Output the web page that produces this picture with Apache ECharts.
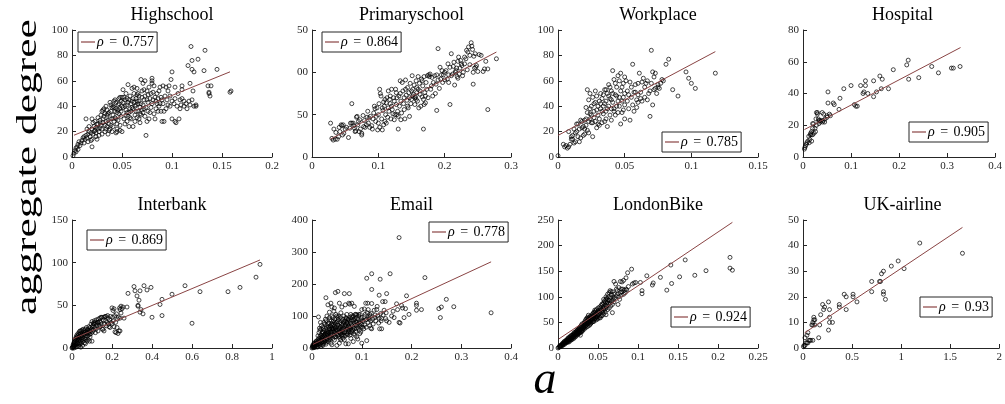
<!DOCTYPE html>
<html>
<head>
<meta charset="utf-8">
<script src="https://cdn.jsdelivr.net/npm/echarts@6/dist/echarts.min.js"></script>
<style>
html, body { margin: 0; padding: 0; background: #fff; }
#chart { width: 1005px; height: 404px; }
</style>
</head>
<body>
<div id="chart"></div>
<script>
// ---- panel titles and correlation coefficients ----
const panelNames = ['Highschool', 'Primaryschool', 'Workplace', 'Hospital',
                    'Interbank', 'Email', 'LondonBike', 'UK-airline'];
const rhoValues = ['0.757', '0.864', '0.785', '0.905', '0.869', '0.778', '0.924', '0.93'];

// ---- axis ranges and tick steps ----
const xMax  = [0.2, 0.3, 0.15, 0.4, 1, 0.4, 0.25, 2];
const xStep = [0.05, 0.1, 0.05, 0.1, 0.2, 0.1, 0.05, 0.5];
const yMax  = [100, 150, 100, 80, 150, 400, 250, 50];
const yStep = [20, 50, 20, 20, 50, 100, 50, 10];

// ---- linear fits: degree = intercept + slope * a, drawn over [start, end] ----
const fitIntercept = [16.5, 9.7, 17, 16.8, 10.3, 10, 16.5, 5.5];
const fitSlope     = [320, 411, 559, 159, 98.8, 720, 1050, 25.6];
const fitStart     = [0.002, 0.028, 0, 0.003, 0.005, 0.002, 0.001, 0.017];
const fitEnd       = [0.158, 0.278, 0.118, 0.328, 0.94, 0.36, 0.218, 1.625];

// ---- (a, aggregate degree) pairs per network ----
const highschool = [
[0.001,1],[0.002,3],[0.003,5],[0.004,7],[0.005,8],[0.006,10],[0.007,12],[0.008,9],[0.009,11],[0.010,13],[0.004,4],[0.006,6],
[0.011,15],[0.012,16],[0.013,14],[0.014,17],[0.015,15],[0.016,18],[0.017,20],[0.018,16],[0.019,13],[0.02,8],[0.02,14],[0.014,30],[0.015,22],[0.017,24],[0.019,19],[0.02,22],[0.012,11],[0.016,12],
[0.021,18],[0.022,24],[0.023,21],[0.024,16],[0.025,26],[0.026,22],[0.027,20],[0.028,29],[0.029,25],[0.03,22],[0.021,27],[0.023,28],[0.024,19],[0.026,31],[0.027,17],[0.028,23],[0.029,33],[0.03,36],[0.03,18],[0.025,14],[0.022,20],[0.026,26],[0.028,27],[0.02,30],[0.024,23],
[0.031,37],[0.032,32],[0.032,38],[0.033,34],[0.034,28],[0.035,24],[0.036,18],[0.037,21],[0.038,30],[0.039,36],[0.04,39],[0.031,27],[0.033,25],[0.034,40],[0.035,33],[0.036,29],[0.037,26],[0.038,22],[0.039,41],[0.04,30],[0.033,20],[0.035,37],[0.037,35],[0.039,25],[0.031,30],[0.036,34],[0.034,22],[0.038,43],[0.04,20],
[0.041,33],[0.042,28],[0.043,45],[0.044,43],[0.045,20],[0.045,22],[0.046,37],[0.047,42],[0.048,47],[0.049,32],[0.05,20],[0.041,40],[0.042,44],[0.043,36],[0.044,30],[0.045,26],[0.046,41],[0.047,34],[0.048,38],[0.049,44],[0.05,40],[0.041,24],[0.043,31],[0.044,38],[0.046,29],[0.048,25],[0.049,36],[0.05,47],[0.042,39],[0.047,46],[0.045,35],[0.044,19],[0.048,21],
[0.051,39],[0.051,53],[0.053,45],[0.054,37],[0.055,41],[0.056,57],[0.057,45],[0.058,38],[0.059,36],[0.06,54],[0.052,30],[0.053,40],[0.054,33],[0.055,28],[0.056,43],[0.057,35],[0.058,48],[0.059,42],[0.06,39],[0.052,47],[0.055,35],[0.057,24],[0.053,26],[0.059,30],[0.06,44],[0.054,50],[0.056,32],[0.058,31],[0.051,43],[0.055,46],
[0.061,24],[0.062,43],[0.063,33],[0.064,46],[0.065,49],[0.066,42],[0.067,30],[0.068,34],[0.069,61],[0.07,47],[0.061,38],[0.062,50],[0.063,40],[0.064,36],[0.065,54],[0.066,36],[0.067,44],[0.068,39],[0.069,42],[0.07,52],[0.061,46],[0.063,28],[0.065,31],[0.067,48],[0.069,33],[0.062,55],[0.064,41],[0.066,50],[0.068,27],[0.07,37],[0.065,44],
[0.071,41],[0.072,53],[0.073,32],[0.074,17],[0.075,45],[0.076,36],[0.077,55],[0.079,39],[0.08,62],[0.071,58],[0.072,45],[0.073,48],[0.074,39],[0.075,52],[0.076,43],[0.077,30],[0.078,46],[0.079,50],[0.08,60],[0.08,42],[0.071,35],[0.073,60],[0.075,28],[0.078,35],[0.08,58],[0.072,38],[0.076,49],
[0.081,45],[0.082,34],[0.083,47],[0.085,42],[0.082,56],[0.084,38],[0.085,50],[0.086,36],[0.087,52],[0.087,40],[0.088,42],[0.089,47],[0.09,45],[0.09,28],[0.083,30],[0.086,46],[0.088,55],[0.084,44],[0.081,51],[0.089,36],
[0.091,56],[0.092,28],[0.093,48],[0.094,55],[0.094,38],[0.096,52],[0.097,56],[0.098,40],[0.099,61],[0.1,67],[0.1,44],[0.1,30],[0.091,42],[0.095,45],[0.098,48],[0.092,36],[0.096,41],
[0.103,28],[0.104,27],[0.103,55],[0.103,46],[0.105,40],[0.106,50],[0.107,30],[0.108,38],[0.108,45],[0.11,46],[0.11,56],[0.11,53],[0.112,40],[0.114,42],[0.115,38],[0.116,72],[0.117,44],[0.118,41],[0.118,58],[0.119,87],[0.12,45],[0.12,76],[0.12,69],[0.121,52],[0.122,40],[0.122,67],[0.124,41],[0.124,40],[0.102,42],[0.112,44],[0.109,41],
[0.126,77],[0.132,68],[0.133,84],[0.136,56],[0.137,51],[0.138,48],[0.139,56],[0.145,69],[0.158,51],[0.159,52],[0.137,50]
];

const primaryschool = [
[0.028,40],[0.03,22],[0.032,20],[0.033,33],[0.035,21],[0.038,21],[0.04,24],[0.042,30],[0.044,38],[0.045,37],[0.047,38],[0.05,33],[0.048,28],[0.046,26],[0.036,29],[0.041,35],
[0.052,35],[0.055,23],[0.057,34],[0.058,40],[0.06,40],[0.06,63],[0.062,40],[0.064,34],[0.066,31],[0.067,47],[0.068,48],[0.069,38],[0.07,42],[0.071,30],[0.072,44],[0.075,28],[0.075,26],[0.073,33],[0.065,30],[0.063,37],
[0.077,49],[0.078,36],[0.08,35],[0.082,38],[0.084,54],[0.085,40],[0.086,46],[0.088,48],[0.09,37],[0.092,45],[0.094,60],[0.095,57],[0.096,42],[0.098,58],[0.099,32],[0.1,40],[0.1,50],[0.097,48],[0.093,52],[0.087,35],[0.091,33],[0.083,47],[0.079,43],
[0.101,63],[0.102,80],[0.103,75],[0.104,72],[0.105,45],[0.106,32],[0.107,55],[0.108,65],[0.109,60],[0.11,42],[0.111,50],[0.112,64],[0.113,70],[0.114,47],[0.115,58],[0.116,54],[0.117,68],[0.118,72],[0.119,45],[0.12,80],[0.12,60],[0.121,56],[0.122,51],[0.123,70],[0.124,66],[0.125,50],[0.102,35],[0.108,38],[0.115,78],[0.112,40],[0.118,63],[0.124,44],[0.106,58],[0.11,68],
[0.126,80],[0.127,62],[0.128,70],[0.129,54],[0.13,48],[0.13,33],[0.131,72],[0.132,60],[0.133,75],[0.134,66],[0.135,52],[0.136,88],[0.137,78],[0.138,63],[0.139,70],[0.14,45],[0.141,91],[0.142,73],[0.143,67],[0.144,82],[0.145,58],[0.146,76],[0.147,70],[0.148,87],[0.149,63],[0.15,78],[0.128,50],[0.134,44],[0.139,56],[0.144,60],[0.147,48],[0.15,68],[0.133,90],[0.127,76],[0.141,80],
[0.151,96],[0.152,72],[0.153,74],[0.154,85],[0.155,70],[0.156,71],[0.157,90],[0.158,76],[0.159,66],[0.16,80],[0.16,95],[0.161,58],[0.162,87],[0.163,74],[0.164,60],[0.165,92],[0.166,71],[0.167,84],[0.168,33],[0.168,68],[0.169,95],[0.17,76],[0.171,64],[0.172,88],[0.173,80],[0.174,96],[0.175,70],[0.155,62],[0.158,82],[0.163,78],[0.166,90],[0.171,72],[0.152,80],[0.157,68],[0.169,62],
[0.176,97],[0.177,95],[0.178,98],[0.179,80],[0.18,84],[0.182,72],[0.183,88],[0.185,96],[0.186,75],[0.188,55],[0.188,97],[0.19,128],[0.19,91],[0.192,81],[0.194,92],[0.195,97],[0.196,102],[0.198,97],[0.2,91],[0.2,100],[0.181,94],[0.187,86],[0.193,106],[0.197,88],
[0.202,102],[0.204,92],[0.205,110],[0.206,97],[0.208,62],[0.208,106],[0.21,122],[0.21,96],[0.212,98],[0.213,107],[0.214,112],[0.215,85],[0.216,100],[0.218,105],[0.219,95],[0.22,113],[0.221,118],[0.222,98],[0.223,105],[0.224,114],[0.225,110],[0.206,88],[0.217,102],[0.22,93],
[0.226,108],[0.227,96],[0.228,100],[0.23,118],[0.232,116],[0.234,103],[0.235,124],[0.236,130],[0.238,120],[0.24,135],[0.241,131],[0.242,127],[0.243,86],[0.244,119],[0.245,105],[0.246,122],[0.247,106],[0.248,108],[0.25,101],[0.252,121],[0.255,120],[0.258,101],[0.26,104],[0.262,113],[0.265,56],[0.265,104],[0.278,116],[0.23,110],[0.238,109],[0.243,100],[0.233,126]
];

const workplace = [
[0,1],[0.004,10],[0.005,8],[0.006,9],[0.007,7],[0.008,8],[0.009,10],[0.01,14],[0.008,20],[0.01,16],
[0.011,17],[0.012,11],[0.013,12],[0.014,20],[0.015,16],[0.015,26],[0.016,22],[0.017,29],[0.018,23],[0.019,17],[0.02,29],[0.011,14],[0.013,19],[0.016,12],[0.018,28],[0.019,24],[0.02,18],[0.017,15],[0.014,26],[0.012,22],
[0.021,25],[0.022,35],[0.022,53],[0.023,28],[0.023,19],[0.024,34],[0.024,50],[0.025,40],[0.025,27],[0.026,47],[0.026,16],[0.027,42],[0.027,31],[0.028,52],[0.028,28],[0.029,37],[0.029,23],[0.03,40],[0.03,33],[0.021,39],[0.022,21],[0.024,30],[0.026,27],[0.028,43],[0.03,26],[0.023,45],[0.025,33],[0.027,36],[0.029,48],[0.021,30],[0.02,22],[0.024,38],
[0.031,44],[0.031,30],[0.032,38],[0.032,50],[0.033,27],[0.033,46],[0.034,40],[0.034,34],[0.035,53],[0.035,28],[0.036,44],[0.036,36],[0.037,50],[0.037,24],[0.038,57],[0.038,40],[0.039,46],[0.039,33],[0.04,52],[0.04,38],[0.041,68],[0.032,42],[0.034,49],[0.036,30],[0.038,48],[0.04,29],[0.033,36],[0.035,42],[0.037,38],[0.039,55],[0.031,25],[0.04,45],[0.036,53],
[0.041,43],[0.042,61],[0.042,36],[0.043,49],[0.044,55],[0.044,40],[0.045,64],[0.045,35],[0.046,60],[0.046,47],[0.047,66],[0.047,26],[0.048,55],[0.048,44],[0.049,58],[0.049,37],[0.05,63],[0.05,50],[0.05,30],[0.041,50],[0.043,58],[0.045,44],[0.047,52],[0.049,47],[0.042,38],[0.044,48],[0.046,40],[0.048,35],[0.05,41],[0.043,33],
[0.051,60],[0.052,44],[0.053,49],[0.054,59],[0.054,29],[0.055,55],[0.056,73],[0.056,41],[0.057,51],[0.057,36],[0.058,51],[0.059,45],[0.059,39],[0.06,58],[0.06,49],[0.052,52],[0.055,47],[0.058,57],[0.053,38],[0.06,43],
[0.061,66],[0.062,51],[0.063,59],[0.063,44],[0.064,62],[0.065,55],[0.065,47],[0.066,58],[0.067,45],[0.068,50],[0.069,32],[0.07,84],[0.07,58],[0.071,41],[0.071,67],[0.072,53],[0.072,63],[0.073,66],[0.074,50],[0.075,55],[0.075,57],[0.062,46],[0.067,60],[0.073,54],[0.069,52],
[0.077,58],[0.078,61],[0.081,73],[0.083,77],[0.086,53],[0.09,48],[0.096,67],[0.098,62],[0.1,58],[0.103,54],[0.118,66],[0.076,54],[0.079,60]
];

const hospital = [
[0.327,57],[0.313,56],[0.309,56],[0.282,53],[0.268,57],[0.241,50],[0.219,61],[0.216,58],[0.22,49],[0.188,55],[0.165,49],[0.16,51],[0.178,43],[0.163,43],[0.153,41],[0.147,48],[0.147,38],[0.13,48],[0.13,45],[0.127,41],[0.125,40],[0.12,45],[0.135,40],[0.1,45],[0.107,33],[0.11,32],[0.113,32],[0.085,43],[0.077,37],[0.075,30],[0.063,34],[0.065,33],[0.052,41],[0.052,34],[0.055,27],[0.05,25],[0.057,26],[0.043,27],[0.04,28],[0.035,23],[0.038,23],[0.045,22],[0.042,23],[0.03,28],[0.028,28],[0.03,27],[0.032,24],[0.027,24],[0.028,20],[0.025,18],[0.026,16],[0.02,21],[0.02,18],[0.022,21],[0.018,16],[0.017,14],[0.015,14],[0.014,11],[0.012,13],[0.01,10],[0.013,9],[0.008,9],[0.007,8],[0.005,7],[0.004,6],[0.003,5],[0.02,14],[0.016,15],[0.023,15],[0.018,10],[0.033,23],[0.036,22],[0.041,22],[0.046,24],[0.05,26],[0.033,21]
];

const interbank = [
[0,0],[0.002,1],[0.004,0],[0.005,2],[0.006,1],[0.008,3],[0.01,0],[0.01,4],[0.012,2],[0.013,6],[0.015,3],[0.016,8],[0.018,5],[0.02,1],[0.02,9],[0.022,4],[0.023,12],[0.025,7],[0.026,2],[0.027,10],[0.028,14],[0.03,5],[0.03,17],[0.032,9],[0.033,13],[0.034,2],[0.035,16],[0.036,6],[0.037,19],[0.038,11],[0.039,4],[0.04,14],[0.04,20],[0.042,8],[0.043,17],[0.044,1],[0.045,12],[0.046,20],[0.047,6],[0.048,15],[0.05,10],[0.05,21],[0.052,18],[0.053,3],[0.054,13],[0.055,8],[0.056,22],[0.058,16],[0.06,20],[0.06,11],[0.062,6],[0.063,18],[0.065,14],[0.066,22],[0.068,10],[0.07,19],[0.07,12],[0.072,24],[0.074,17],[0.075,8],[0.076,21],[0.078,14],[0.08,22],[0.08,10],[0.082,18],[0.084,25],[0.085,16],[0.087,20],[0.088,8],[0.09,24],[0.09,13],[0.092,20],[0.095,28],[0.096,17],[0.098,22],[0.1,31],[0.1,8],[0.1,25],
[0.102,19],[0.105,26],[0.107,29],[0.108,21],[0.11,28],[0.112,32],[0.113,24],[0.115,30],[0.117,18],[0.12,28],[0.12,22],[0.122,33],[0.125,26],[0.127,30],[0.13,30],[0.13,20],[0.132,34],[0.135,27],[0.137,31],[0.14,25],[0.14,35],[0.143,30],[0.145,36],[0.147,28],[0.15,36],[0.152,22],[0.155,22],[0.157,33],[0.16,20],[0.16,36],[0.162,28],[0.165,37],[0.168,32],[0.17,37],[0.172,26],[0.175,30],[0.178,38],[0.18,35],[0.182,28],[0.185,25],[0.188,33],[0.19,24],[0.192,37],[0.195,30],
[0.2,47],[0.2,28],[0.203,36],[0.205,44],[0.207,32],[0.21,46],[0.21,25],[0.213,38],[0.215,19],[0.218,30],[0.22,18],[0.222,40],[0.225,24],[0.228,34],[0.23,17],[0.232,36],[0.235,20],[0.238,47],[0.24,45],[0.24,35],[0.24,20],[0.245,41],[0.245,49],[0.25,46],[0.255,48],[0.26,35],[0.275,48],[0.28,64],
[0.31,72],[0.315,67],[0.325,61],[0.33,50],[0.33,49],[0.335,56],[0.34,42],[0.34,67],[0.345,45],[0.355,40],[0.36,73],[0.375,68],[0.395,71],[0.4,36],[0.44,51],[0.45,38],[0.45,57],[0.5,63],[0.565,73],[0.6,29],[0.64,66],[0.78,66],[0.84,71],[0.92,83],[0.94,98],
[0.006,4],[0.012,7],[0.018,11],[0.024,15],[0.015,10],[0.009,6],[0.021,13],[0.027,5],[0.031,11],[0.041,9],[0.051,15],[0.061,16],[0.067,5],[0.078,19],[0.089,16]
];

const email = [
[0,0],[0.001,2],[0.002,5],[0.003,1],[0.004,8],[0.005,3],[0.006,12],[0.007,6],[0.008,15],[0.009,9],[0.01,4],[0.01,18],[0.002,10],[0.004,14],[0.006,2],[0.008,20],[0.003,7],[0.005,16],[0.007,11],[0.009,22],[0.001,6],
[0.011,10],[0.012,25],[0.013,15],[0.013,97],[0.014,30],[0.015,8],[0.015,20],[0.016,35],[0.017,12],[0.017,26],[0.018,40],[0.018,5],[0.019,18],[0.019,30],[0.02,45],[0.02,10],[0.012,38],[0.014,48],[0.016,55],[0.018,60],[0.02,25],[0.011,3],[0.015,62],[0.019,70],[0.017,80],[0.013,22],[0.016,14],[0.02,35],
[0.021,20],[0.021,50],[0.022,30],[0.022,8],[0.023,40],[0.023,60],[0.024,15],[0.024,25],[0.025,55],[0.025,35],[0.026,75],[0.026,20],[0.027,45],[0.027,30],[0.028,157],[0.028,62],[0.028,12],[0.029,38],[0.029,50],[0.03,70],[0.03,25],[0.03,100],[0.022,65],[0.024,80],[0.026,42],[0.027,90],[0.029,18],[0.021,35],[0.023,48],[0.025,22],[0.03,45],[0.028,85],
[0.031,55],[0.031,30],[0.032,135],[0.032,40],[0.033,65],[0.033,20],[0.034,78],[0.034,48],[0.035,35],[0.035,95],[0.036,58],[0.036,28],[0.037,70],[0.037,42],[0.038,140],[0.038,52],[0.038,15],[0.039,85],[0.039,38],[0.04,62],[0.04,10],[0.04,100],[0.032,75],[0.034,25],[0.036,88],[0.038,66],[0.031,45],[0.033,50],[0.035,60],[0.037,32],[0.039,50],[0.04,75],[0.035,112],[0.04,128],
[0.041,45],[0.041,70],[0.042,55],[0.042,30],[0.043,85],[0.043,60],[0.044,40],[0.044,115],[0.045,125],[0.045,68],[0.045,25],[0.046,50],[0.046,90],[0.047,173],[0.047,75],[0.048,35],[0.048,58],[0.049,80],[0.049,45],[0.05,100],[0.05,65],[0.05,8],[0.042,95],[0.044,52],[0.046,35],[0.048,105],[0.05,40],[0.043,73],[0.047,62],[0.049,55],[0.041,60],[0.045,80],
[0.051,55],[0.052,177],[0.052,72],[0.053,40],[0.053,88],[0.054,62],[0.055,140],[0.055,50],[0.055,15],[0.056,80],[0.056,30],[0.057,65],[0.057,95],[0.058,45],[0.058,110],[0.059,75],[0.059,55],[0.06,128],[0.06,60],[0.06,85],[0.052,95],[0.054,35],[0.056,68],[0.058,25],[0.051,82],[0.053,60],[0.057,48],[0.059,38],[0.054,100],[0.06,42],
[0.061,70],[0.062,55],[0.062,90],[0.063,40],[0.063,78],[0.064,100],[0.064,62],[0.065,170],[0.065,25],[0.065,48],[0.066,85],[0.066,68],[0.067,135],[0.067,52],[0.068,13],[0.068,75],[0.069,92],[0.069,58],[0.07,45],[0.07,80],[0.07,65],[0.062,30],[0.064,82],[0.066,38],[0.068,95],[0.061,50],[0.063,60],[0.067,72],[0.069,40],[0.07,105],
[0.071,60],[0.072,90],[0.072,75],[0.073,13],[0.073,50],[0.074,140],[0.074,68],[0.075,170],[0.075,85],[0.075,55],[0.076,137],[0.076,40],[0.077,78],[0.077,95],[0.078,62],[0.078,30],[0.079,88],[0.079,72],[0.08,140],[0.08,50],[0.08,100],[0.072,42],[0.074,58],[0.076,65],[0.078,105],[0.071,80],[0.073,90],[0.077,48],[0.079,55],
[0.081,70],[0.082,85],[0.082,55],[0.083,100],[0.083,65],[0.084,45],[0.085,130],[0.085,78],[0.085,60],[0.086,90],[0.087,72],[0.087,105],[0.088,52],[0.088,82],[0.089,95],[0.09,103],[0.09,35],[0.09,68],[0.084,88],[0.086,40],[0.089,60],[0.081,95],[0.083,20],[0.088,105],[0.09,80],
[0.091,75],[0.092,28],[0.092,90],[0.093,62],[0.094,100],[0.095,55],[0.095,82],[0.096,70],[0.097,105],[0.098,50],[0.098,88],[0.099,65],[0.1,73],[0.1,120],[0.1,15],[0.1,95],[0.094,105],[0.096,45],[0.097,78],
[0.101,85],[0.103,83],[0.104,60],[0.105,122],[0.105,98],[0.106,72],[0.107,105],[0.108,88],[0.109,65],[0.11,90],[0.11,23],[0.11,218],[0.111,110],[0.112,140],[0.113,80],[0.114,95],[0.115,90],[0.116,70],[0.117,100],[0.118,85],[0.119,108],[0.12,139],[0.12,183],[0.12,232],[0.12,60],[0.102,65],[0.108,140],[0.113,120],[0.116,105],[0.118,62],
[0.122,90],[0.123,75],[0.125,118],[0.126,95],[0.127,103],[0.128,85],[0.13,120],[0.131,130],[0.132,100],[0.134,78],[0.135,93],[0.135,165],[0.136,60],[0.137,215],[0.138,108],[0.139,85],[0.14,92],[0.14,60],[0.142,145],[0.143,103],[0.145,118],[0.147,145],[0.148,92],[0.15,85],[0.15,170],[0.149,110],
[0.155,80],[0.157,232],[0.16,100],[0.163,115],[0.165,95],[0.17,138],[0.172,120],[0.175,80],[0.175,345],[0.177,78],[0.18,133],[0.182,125],[0.185,95],[0.188,123],[0.19,163],[0.195,105],
[0.21,118],[0.21,140],[0.21,133],[0.22,120],[0.227,220],[0.255,123],[0.258,95],[0.26,128],[0.27,152],[0.285,129],[0.36,110]
];

const londonBike = [
[0,0],[0.001,1],[0.002,2],[0.003,3],[0.004,5],[0.005,6],[0.006,7],[0.007,9],[0.008,10],[0.009,12],[0.01,13],[0.002,4],[0.004,3],[0.005,8],[0.006,5],[0.007,11],[0.008,7],[0.009,9],[0.01,10],[0.003,5],[0.01,15],[0.008,13],[0.006,9],
[0.011,12],[0.011,16],[0.012,14],[0.012,18],[0.013,13],[0.013,17],[0.014,15],[0.014,20],[0.015,16],[0.015,22],[0.016,18],[0.016,21],[0.017,17],[0.017,24],[0.018,20],[0.018,25],[0.019,22],[0.019,27],[0.02,21],[0.02,26],[0.02,30],[0.015,19],[0.017,20],[0.019,24],[0.012,11],[0.014,12],[0.016,15],[0.018,17],[0.02,19],[0.013,20],[0.011,14],[0.016,24],
[0.021,24],[0.021,29],[0.022,25],[0.022,31],[0.023,27],[0.023,33],[0.024,28],[0.024,35],[0.025,30],[0.025,36],[0.026,31],[0.026,38],[0.027,33],[0.027,40],[0.028,25],[0.028,35],[0.028,42],[0.029,36],[0.029,44],[0.03,34],[0.03,40],[0.03,47],[0.021,27],[0.023,30],[0.025,33],[0.027,36],[0.029,39],[0.022,22],[0.024,25],[0.026,28],[0.028,30],[0.03,32],[0.024,31],[0.026,35],[0.03,37],[0.025,27],[0.029,33],[0.027,30],
[0.031,38],[0.031,45],[0.032,39],[0.032,48],[0.033,41],[0.033,50],[0.034,42],[0.034,46],[0.034,53],[0.035,44],[0.035,50],[0.035,56],[0.036,45],[0.036,52],[0.037,47],[0.037,55],[0.037,60],[0.038,48],[0.038,57],[0.039,50],[0.039,59],[0.04,52],[0.04,62],[0.04,46],[0.031,35],[0.033,37],[0.035,40],[0.037,42],[0.039,44],[0.032,43],[0.034,48],[0.036,49],[0.038,52],[0.04,56],[0.033,45],[0.036,58],[0.039,54],[0.038,64],
[0.041,54],[0.041,60],[0.042,50],[0.042,63],[0.043,56],[0.043,66],[0.044,52],[0.044,59],[0.044,68],[0.045,52],[0.045,62],[0.045,70],[0.046,57],[0.046,65],[0.047,60],[0.047,72],[0.048,55],[0.048,67],[0.048,75],[0.049,62],[0.049,70],[0.05,57],[0.05,65],[0.05,78],[0.041,48],[0.043,51],[0.045,56],[0.047,58],[0.049,59],[0.042,57],[0.044,63],[0.046,69],[0.048,61],[0.05,71],[0.046,74],[0.043,61],
[0.051,66],[0.051,74],[0.052,60],[0.052,80],[0.053,68],[0.053,77],[0.054,63],[0.054,83],[0.055,63],[0.055,72],[0.055,86],[0.056,70],[0.056,79],[0.057,66],[0.057,88],[0.058,75],[0.058,92],[0.059,70],[0.059,84],[0.06,95],[0.06,78],[0.06,65],[0.052,70],[0.054,74],[0.056,85],[0.058,80],[0.053,59],[0.057,76],[0.059,90],[0.06,100],[0.057,95],
[0.061,82],[0.061,97],[0.062,75],[0.062,90],[0.063,86],[0.063,100],[0.064,78],[0.064,93],[0.065,88],[0.065,112],[0.066,82],[0.066,98],[0.067,92],[0.067,104],[0.068,69],[0.068,110],[0.069,95],[0.07,90],[0.07,130],[0.07,105],[0.062,105],[0.064,108],[0.066,110],[0.068,85],[0.069,100],[0.063,94],[0.061,88],
[0.071,98],[0.072,125],[0.073,102],[0.074,112],[0.075,85],[0.075,106],[0.076,118],[0.077,95],[0.078,130],[0.078,108],[0.079,103],[0.08,110],[0.08,129],[0.081,115],[0.082,132],[0.083,113],[0.084,108],[0.085,137],[0.086,113],[0.087,147],[0.088,120],[0.073,115],[0.076,100],[0.079,115],[0.082,105],[0.085,115],
[0.092,154],[0.093,125],[0.095,127],[0.097,128],[0.103,128],[0.105,106],[0.105,112],[0.111,141],[0.118,123],[0.119,127],[0.128,138],[0.136,113],[0.141,162],[0.142,126],[0.152,139],[0.159,172],[0.171,142],[0.185,151],[0.215,177],[0.215,156],[0.218,152]
];

const ukAirline = [
[1.625,37],[1.19,41],[0.97,34],[1.03,31],[0.9,32],[0.82,30],[0.8,29],[0.78,26],[0.79,26],[0.7,26],[0.7,22],[0.82,22],[0.82,21],[0.84,19],[0.55,18],[0.51,21],[0.51,20],[0.44,20],[0.42,21],[0.44,15],[0.37,17],[0.37,16],[0.26,18],[0.27,15],[0.27,12],[0.3,10],[0.27,10],[0.26,7],[0.22,16],[0.2,17],[0.21,15],[0.18,13],[0.16,4],[0.11,12],[0.12,11],[0.1,10],[0.1,9],[0.12,9],[0.1,3],[0.07,3],[0.06,3],[0.05,2],[0.04,2],[0.03,2],[0.02,1],[0.01,1],[0.02,4],[0.04,5],[0.05,6],[0.09,9],[0.11,11],[0.17,9],[0.005,0.5],[0.08,3]
];

const panelData = [highschool, primaryschool, workplace, hospital, interbank, email, londonBike, ukAirline];

// ---- layout ----
const SERIF = "'Liberation Serif', 'Times New Roman', serif";
const AXIS_COLOR = '#262626';
const FIT_COLOR = '#8a4444';
// [left, top, width, height] of each plotting area
const gridBoxes = [
  [72, 30, 200, 127], [312, 30, 199, 127], [558, 30, 200, 127], [803, 30, 199, 127],
  [72, 220, 200, 128], [312, 220, 199, 128], [558, 220, 200, 128], [803, 220, 199, 128]
];
// top-left corner of each legend box
const legendSpots = [[78, 32], [322, 32], [662, 132], [909, 122], [87, 230], [429, 222], [671, 307], [920, 297]];

const legendName = i => 'ρ = ' + rhoValues[i];

const grids = [], xAxes = [], yAxes = [], series = [], legends = [], graphics = [];

panelNames.forEach((name, i) => {
  const [l, t, w, h] = gridBoxes[i];
  grids.push({ left: l, top: t, width: w, height: h, containLabel: false, show: false });

  const axisCommon = {
    gridIndex: i,
    type: 'value',
    min: 0,
    axisLine: { show: true, onZero: false, lineStyle: { color: AXIS_COLOR, width: 1 } },
    axisTick: { show: true, inside: true, length: 4, lineStyle: { color: AXIS_COLOR, width: 1 } },
    splitLine: { show: false },
    axisLabel: { fontFamily: SERIF, fontSize: 11, color: AXIS_COLOR, showMinLabel: true, showMaxLabel: true }
  };
  xAxes.push(Object.assign({}, axisCommon, {
    max: xMax[i], interval: xStep[i],
    axisLabel: Object.assign({}, axisCommon.axisLabel, { margin: 4 })
  }));
  yAxes.push(Object.assign({}, axisCommon, {
    max: yMax[i], interval: yStep[i],
    axisLabel: Object.assign({}, axisCommon.axisLabel, { margin: 4 })
  }));

  series.push({
    type: 'scatter',
    xAxisIndex: i, yAxisIndex: i,
    data: panelData[i],
    symbol: 'circle',
    symbolSize: 4,
    itemStyle: { color: 'rgba(0,0,0,0)', borderColor: '#000', borderWidth: 0.9 },
    silent: true,
    z: 2
  });

  const x0 = fitStart[i], x1 = fitEnd[i];
  series.push({
    type: 'line',
    name: legendName(i),
    xAxisIndex: i, yAxisIndex: i,
    data: [[x0, fitIntercept[i] + fitSlope[i] * x0], [x1, fitIntercept[i] + fitSlope[i] * x1]],
    symbol: 'none',
    showSymbol: false,
    lineStyle: { color: FIT_COLOR, width: 1 },
    itemStyle: { color: FIT_COLOR },
    silent: true,
    z: 3
  });

  legends.push({
    data: [{ name: legendName(i), icon: 'rect' }],
    left: legendSpots[i][0],
    top: legendSpots[i][1],
    orient: 'horizontal',
    selectedMode: false,
    backgroundColor: '#fff',
    borderColor: AXIS_COLOR,
    borderWidth: 1,
    borderRadius: 0,
    padding: [3, 3, 3, 3],
    itemWidth: 14,
    itemHeight: 1.2,
    itemGap: 0,
    textStyle: {
      fontFamily: SERIF, fontSize: 14, color: '#000', lineHeight: 14, padding: [0, 0, 0, -3],
      rich: {
        r: { fontFamily: SERIF, fontSize: 14, fontStyle: 'italic', color: '#000' },
        e: { fontFamily: SERIF, fontSize: 14, color: '#000', padding: [0, 2] },
        v: { fontFamily: SERIF, fontSize: 14, color: '#000' }
      }
    },
    formatter: () => '{r|ρ}{e| = }{v|' + rhoValues[i] + '}'
  });

  graphics.push({
    type: 'text',
    x: l + w / 2,
    y: t - 15,
    z: 100,
    style: { text: name, fontFamily: SERIF, fontSize: 18, fill: '#000', align: 'center', verticalAlign: 'middle' }
  });
});

// white mask where the left panel's area overlaps the hundreds digit of the neighbouring tick labels
graphics.push({
  type: 'rect', z: 99,
  shape: { x: 281, y: 22, width: 16, height: 58 },
  style: { fill: '#fff' }
});

// shared axis titles
graphics.push({
  type: 'text', x: 28, y: 167, rotation: Math.PI / 2, scaleX: 1.5, z: 100,
  style: { text: 'aggregate degree', fontFamily: SERIF, fontSize: 29, fill: '#000', align: 'center', verticalAlign: 'middle' }
});
graphics.push({
  type: 'text', x: 545, y: 381, z: 100,
  style: { text: 'a', fontFamily: SERIF, fontSize: 46, fontStyle: 'italic', fill: '#000', align: 'center', verticalAlign: 'middle' }
});

const chart = echarts.init(document.getElementById('chart'), null, { renderer: 'canvas' });
chart.setOption({
  animation: false,
  backgroundColor: '#fff',
  grid: grids,
  xAxis: xAxes,
  yAxis: yAxes,
  legend: legends,
  series: series,
  graphic: graphics
});
</script>
</body>
</html>
